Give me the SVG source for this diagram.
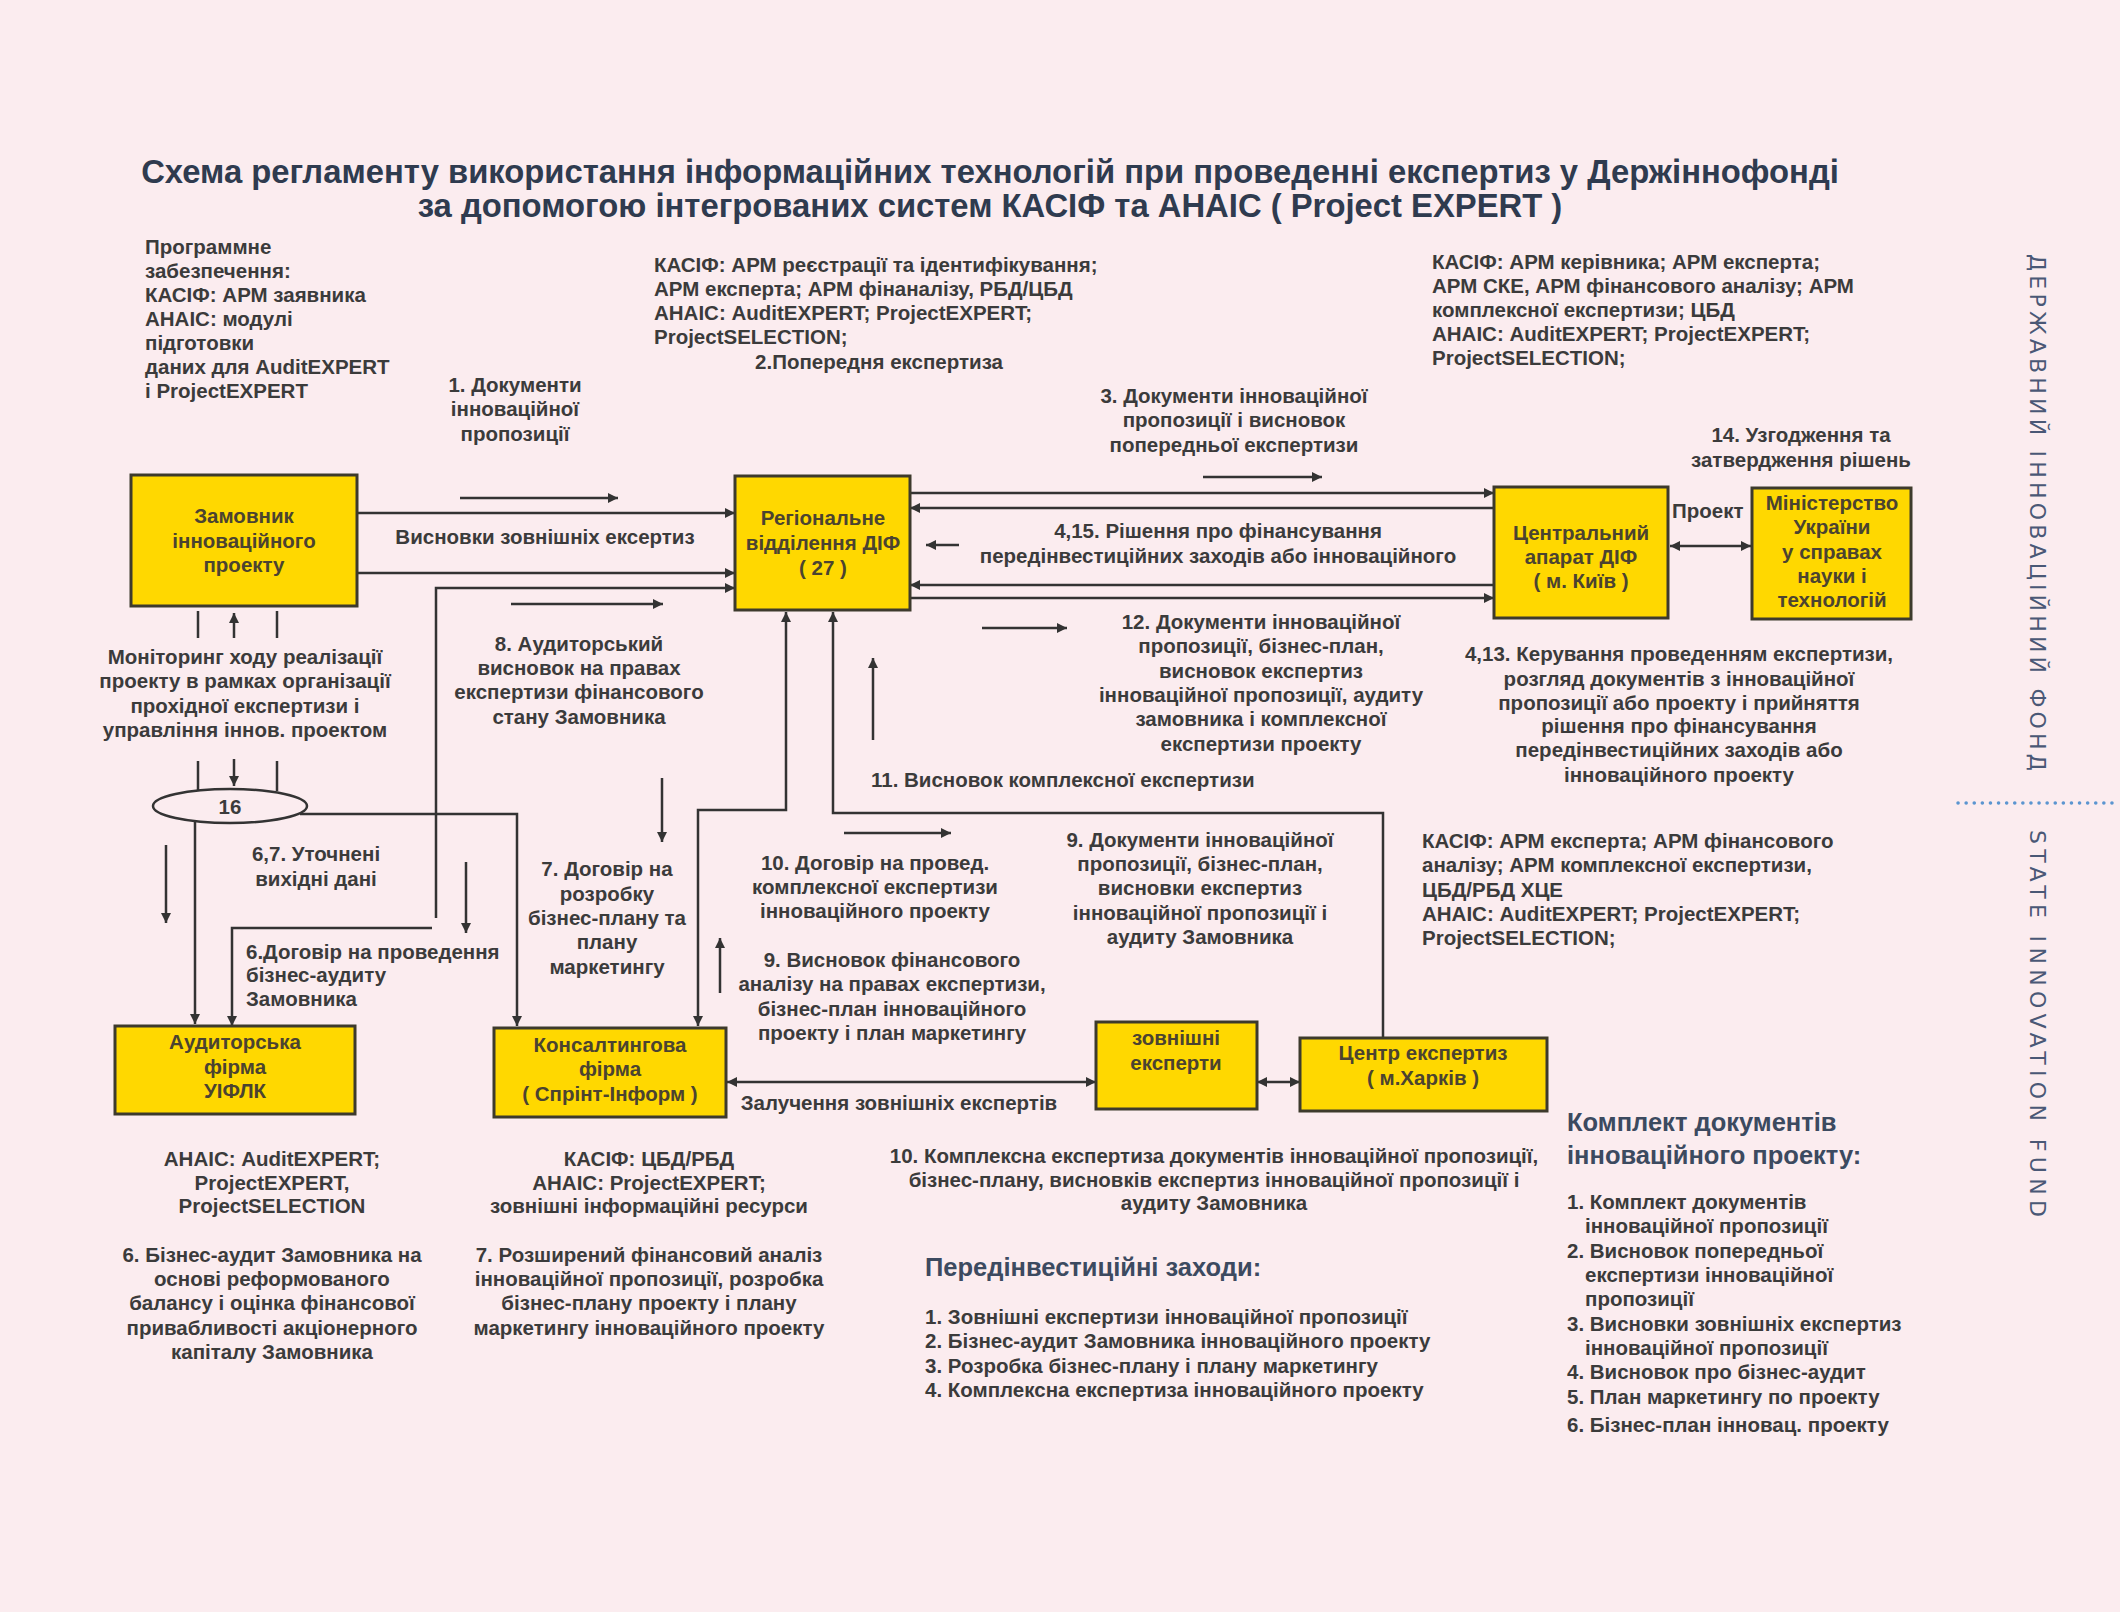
<svg xmlns="http://www.w3.org/2000/svg" width="2120" height="1612" viewBox="0 0 2120 1612">
<style>
.t{font-family:"Liberation Sans",Arial,sans-serif;font-weight:bold;font-size:20.5px;fill:#3b3b3b}
.c{text-anchor:middle}
.ttl{font-family:"Liberation Sans",Arial,sans-serif;font-weight:bold;font-size:32.8px;fill:#2f3b4f;text-anchor:middle}
.h{font-family:"Liberation Sans",Arial,sans-serif;font-weight:bold;font-size:25.5px;fill:#3c4a60}
.n{fill:#ffd800;stroke:#3d3a2c;stroke-width:3}
.nt{font-family:"Liberation Sans",Arial,sans-serif;font-weight:bold;font-size:20.5px;fill:#4b4330;text-anchor:middle}
.ln{stroke:#333;stroke-width:2.5;fill:none}
.a{marker-end:url(#ah)}
.s{marker-start:url(#ah)}
.side{font-family:"DejaVu Sans","Liberation Sans",sans-serif;font-size:22px;fill:#4a5876}
</style>
<defs>
<marker id="ah" viewBox="0 0 10 10" refX="10" refY="5" markerWidth="13" markerHeight="10" markerUnits="userSpaceOnUse" orient="auto-start-reverse"><path d="M0,0 L10,5 L0,10 z" fill="#333"/></marker>
</defs>
<rect width="2120" height="1612" fill="#fbecef"/>

<g id="title">
<text class="ttl" x="990" y="183">Схема регламенту використання інформаційних технологій при проведенні експертиз у Держіннофонді</text>
<text class="ttl" x="990" y="217">за допомогою інтегрованих систем КАСІФ та АНАІС ( Project EXPERT )</text>
</g>

<g id="connectors">
<line class="ln a" x1="460" y1="498" x2="618" y2="498"/>
<line class="ln a" x1="357" y1="513" x2="735" y2="513"/>
<line class="ln a" x1="357" y1="573" x2="735" y2="573"/>
<polyline class="ln a" points="436,918 436,588 735,588"/>
<polyline class="ln a" points="432,928 232,928 232,1026"/>
<line class="ln a" x1="511" y1="604" x2="663" y2="604"/>
<line class="ln a" x1="910" y1="493" x2="1494" y2="493"/>
<line class="ln a" x1="1494" y1="508" x2="910" y2="508"/>
<line class="ln a" x1="1494" y1="585" x2="910" y2="585"/>
<line class="ln a" x1="910" y1="598" x2="1494" y2="598"/>
<line class="ln a" x1="1203" y1="477" x2="1322" y2="477"/>
<line class="ln a" x1="959" y1="545" x2="926" y2="545"/>
<line class="ln a" x1="982" y1="628" x2="1067" y2="628"/>
<line class="ln a s" x1="1670" y1="546" x2="1751" y2="546"/>
<line class="ln a" x1="873" y1="740" x2="873" y2="658"/>
<polyline class="ln a" points="1383,1037 1383,813 833,813 833,612"/>
<polyline class="ln a s" points="786,612 786,810 698,810 698,1026"/>
<line class="ln a" x1="720" y1="993" x2="720" y2="938"/>
<line class="ln a" x1="662" y1="778" x2="662" y2="842"/>
<line class="ln a" x1="844" y1="833" x2="951" y2="833"/>
<polyline class="ln a" points="300,814 517,814 517,1026"/>
<line class="ln a" x1="195" y1="822" x2="195" y2="1024"/>
<line class="ln a" x1="166" y1="845" x2="166" y2="923"/>
<line class="ln a" x1="466" y1="862" x2="466" y2="933"/>
<line class="ln" x1="198" y1="611" x2="198" y2="638"/>
<line class="ln a" x1="234" y1="638" x2="234" y2="613"/>
<line class="ln" x1="277" y1="611" x2="277" y2="638"/>
<line class="ln" x1="198" y1="761" x2="198" y2="791"/>
<line class="ln a" x1="234" y1="759" x2="234" y2="786"/>
<line class="ln" x1="277" y1="761" x2="277" y2="791"/>
<line class="ln a s" x1="727" y1="1082" x2="1096" y2="1082"/>
<line class="ln a s" x1="1257" y1="1082" x2="1300" y2="1082"/>
</g>

<g id="n-zamovnyk">
<rect class="n" x="131" y="475" width="226" height="131"/>
<text class="nt"><tspan x="244" y="523">Замовник</tspan><tspan x="244" y="548">інноваційного</tspan><tspan x="244" y="572">проекту</tspan></text>
</g>
<g id="n-regional">
<rect class="n" x="735" y="476" width="175" height="134"/>
<text class="nt"><tspan x="823" y="525">Регіональне</tspan><tspan x="823" y="550">відділення ДІФ</tspan><tspan x="823" y="575">( 27 )</tspan></text>
</g>
<g id="n-central">
<rect class="n" x="1494" y="487" width="174" height="131"/>
<text class="nt"><tspan x="1581" y="540">Центральний</tspan><tspan x="1581" y="564">апарат ДІФ</tspan><tspan x="1581" y="588">( м. Київ )</tspan></text>
</g>
<g id="n-ministry">
<rect class="n" x="1752" y="488" width="159" height="131"/>
<text class="nt"><tspan x="1832" y="510">Міністерство</tspan><tspan x="1832" y="534">України</tspan><tspan x="1832" y="559">у справах</tspan><tspan x="1832" y="583">науки і</tspan><tspan x="1832" y="607">технологій</tspan></text>
</g>
<g id="n-audit">
<rect class="n" x="115" y="1026" width="240" height="88"/>
<text class="nt"><tspan x="235" y="1049">Аудиторська</tspan><tspan x="235" y="1074">фірма</tspan><tspan x="235" y="1098">УІФЛК</tspan></text>
</g>
<g id="n-consult">
<rect class="n" x="494" y="1028" width="232" height="89"/>
<text class="nt"><tspan x="610" y="1052">Консалтингова</tspan><tspan x="610" y="1076">фірма</tspan><tspan x="610" y="1101">( Спрінт-Інформ )</tspan></text>
</g>
<g id="n-experts">
<rect class="n" x="1096" y="1022" width="161" height="87"/>
<text class="nt"><tspan x="1176" y="1045">зовнішні</tspan><tspan x="1176" y="1070">експерти</tspan></text>
</g>
<g id="n-center">
<rect class="n" x="1300" y="1038" width="247" height="73"/>
<text class="nt"><tspan x="1423" y="1060">Центр експертиз</tspan><tspan x="1423" y="1085">( м.Харків )</tspan></text>
</g>
<g id="n-16">
<ellipse cx="230" cy="806" rx="77" ry="17" fill="none" stroke="#333" stroke-width="2.5"/>
<text class="t c" x="230" y="814">16</text>
</g>

<g id="labels">
<text class="t"><tspan x="145" y="254">Программне</tspan><tspan x="145" y="278">забезпечення:</tspan><tspan x="145" y="302">КАСІФ: АРМ заявника</tspan><tspan x="145" y="326">АНАІС: модулі</tspan><tspan x="145" y="350">підготовки</tspan><tspan x="145" y="374">даних для AuditEXPERT</tspan><tspan x="145" y="398">і ProjectEXPERT</tspan></text>
<text class="t"><tspan x="654" y="272">КАСІФ: АРМ реєстрації та ідентифікування;</tspan><tspan x="654" y="296">АРМ експерта; АРМ фінаналізу, РБД/ЦБД</tspan><tspan x="654" y="320">АНАІС: AuditEXPERT; ProjectEXPERT;</tspan><tspan x="654" y="344">ProjectSELECTION;</tspan></text>
<text class="t c" x="879" y="369">2.Попередня експертиза</text>
<text class="t"><tspan x="1432" y="269">КАСІФ: АРМ керівника; АРМ експерта;</tspan><tspan x="1432" y="293">АРМ СКЕ, АРМ фінансового аналізу; АРМ</tspan><tspan x="1432" y="317">комплексної експертизи; ЦБД</tspan><tspan x="1432" y="341">АНАІС: AuditEXPERT; ProjectEXPERT;</tspan><tspan x="1432" y="365">ProjectSELECTION;</tspan></text>
<text class="t c"><tspan x="515" y="392">1. Документи</tspan><tspan x="515" y="416">інноваційної</tspan><tspan x="515" y="441">пропозиції</tspan></text>
<text class="t c"><tspan x="1234" y="403">3. Документи інноваційної</tspan><tspan x="1234" y="427">пропозиції і висновок</tspan><tspan x="1234" y="452">попередньої експертизи</tspan></text>
<text class="t c"><tspan x="1801" y="442">14. Узгодження та</tspan><tspan x="1801" y="467">затвердження рішень</tspan></text>
<text class="t" x="1672" y="518">Проект</text>
<text class="t c" x="545" y="544">Висновки зовнішніх ексертиз</text>
<text class="t c"><tspan x="1218" y="538">4,15. Рішення про фінансування</tspan><tspan x="1218" y="563">передінвестиційних заходів або інноваційного</tspan></text>
<text class="t c"><tspan x="1261" y="629">12. Документи інноваційної</tspan><tspan x="1261" y="653">пропозиції, бізнес-план,</tspan><tspan x="1261" y="678">висновок експертиз</tspan><tspan x="1261" y="702">інноваційної  пропозиції, аудиту</tspan><tspan x="1261" y="726">замовника і комплексної</tspan><tspan x="1261" y="751">експертизи проекту</tspan></text>
<text class="t c"><tspan x="1679" y="661">4,13. Керування проведенням експертизи,</tspan><tspan x="1679" y="686">розгляд документів з інноваційної</tspan><tspan x="1679" y="710">пропозиції або проекту і прийняття</tspan><tspan x="1679" y="733">рішення про фінансування</tspan><tspan x="1679" y="757">передінвестиційних заходів або</tspan><tspan x="1679" y="782">інноваційного проекту</tspan></text>
<text class="t c"><tspan x="245" y="664">Моніторинг ходу реалізації</tspan><tspan x="245" y="688">проекту в рамках організації</tspan><tspan x="245" y="713">прохідної експертизи і</tspan><tspan x="245" y="737">управління іннов. проектом</tspan></text>
<text class="t c"><tspan x="579" y="651">8. Аудиторський</tspan><tspan x="579" y="675">висновок на правах</tspan><tspan x="579" y="699">експертизи фінансового</tspan><tspan x="579" y="724">стану Замовника</tspan></text>
<text class="t" x="871" y="787">11. Висновок комплексної експертизи</text>
<text class="t c"><tspan x="316" y="861">6,7. Уточнені</tspan><tspan x="316" y="886">вихідні дані</tspan></text>
<text class="t c"><tspan x="607" y="876">7. Договір  на</tspan><tspan x="607" y="901">розробку</tspan><tspan x="607" y="925">бізнес-плану та</tspan><tspan x="607" y="949">плану</tspan><tspan x="607" y="974">маркетингу</tspan></text>
<text class="t c"><tspan x="875" y="870">10. Договір на провед.</tspan><tspan x="875" y="894">комплексної експертизи</tspan><tspan x="875" y="918">інноваційного проекту</tspan></text>
<text class="t c"><tspan x="1200" y="847">9. Документи інноваційної</tspan><tspan x="1200" y="871">пропозиції, бізнес-план,</tspan><tspan x="1200" y="895">висновки експертиз</tspan><tspan x="1200" y="920">інноваційної пропозиції і</tspan><tspan x="1200" y="944">аудиту Замовника</tspan></text>
<text class="t"><tspan x="1422" y="848">КАСІФ: АРМ експерта; АРМ фінансового</tspan><tspan x="1422" y="872">аналізу; АРМ комплексної експертизи,</tspan><tspan x="1422" y="897">ЦБД/РБД ХЦЕ</tspan><tspan x="1422" y="921">АНАІС: AuditEXPERT; ProjectEXPERT;</tspan><tspan x="1422" y="945">ProjectSELECTION;</tspan></text>
<text class="t"><tspan x="246" y="959">6.Договір на проведення</tspan><tspan x="246" y="982">бізнес-аудиту</tspan><tspan x="246" y="1006">Замовника</tspan></text>
<text class="t c"><tspan x="892" y="967">9. Висновок фінансового</tspan><tspan x="892" y="991">аналізу на правах експертизи,</tspan><tspan x="892" y="1016">бізнес-план інноваційного</tspan><tspan x="892" y="1040">проекту і план маркетингу</tspan></text>
<text class="t c" x="899" y="1110">Залучення зовнішніх експертів</text>
<text class="t c"><tspan x="272" y="1166">АНАІС: AuditEXPERT;</tspan><tspan x="272" y="1190">ProjectEXPERT,</tspan><tspan x="272" y="1213">ProjectSELECTION</tspan></text>
<text class="t c"><tspan x="649" y="1166">КАСІФ: ЦБД/РБД</tspan><tspan x="649" y="1190">АНАІС: ProjectEXPERT;</tspan><tspan x="649" y="1213">зовнішні інформаційні ресурси</tspan></text>
<text class="t c"><tspan x="1214" y="1163">10. Комплексна експертиза документів інноваційної пропозиції,</tspan><tspan x="1214" y="1187">бізнес-плану, висновків експертиз інноваційної пропозиції і</tspan><tspan x="1214" y="1210">аудиту Замовника</tspan></text>
<text class="t c"><tspan x="272" y="1262">6. Бізнес-аудит Замовника на</tspan><tspan x="272" y="1286">основі реформованого</tspan><tspan x="272" y="1310">балансу і оцінка фінансової</tspan><tspan x="272" y="1335">привабливості акціонерного</tspan><tspan x="272" y="1359">капіталу Замовника</tspan></text>
<text class="t c"><tspan x="649" y="1262">7. Розширений фінансовий аналіз</tspan><tspan x="649" y="1286">інноваційної пропозиції, розробка</tspan><tspan x="649" y="1310">бізнес-плану проекту і плану</tspan><tspan x="649" y="1335">маркетингу інноваційного проекту</tspan></text>
<text class="h" x="925" y="1276">Передінвестиційні заходи:</text>
<text class="t"><tspan x="925" y="1324">1. Зовнішні експертизи інноваційної пропозиції</tspan><tspan x="925" y="1348">2. Бізнес-аудит Замовника інноваційного проекту</tspan><tspan x="925" y="1373">3. Розробка бізнес-плану і плану маркетингу</tspan><tspan x="925" y="1397">4. Комплексна експертиза інноваційного проекту</tspan></text>
<text class="h"><tspan x="1567" y="1131">Комплект документів</tspan><tspan x="1567" y="1164">інноваційного проекту:</tspan></text>
<text class="t"><tspan x="1567" y="1209">1. Комплект документів</tspan><tspan x="1585" y="1233">інноваційної пропозиції</tspan><tspan x="1567" y="1258">2. Висновок попередньої</tspan><tspan x="1585" y="1282">експертизи інноваційної</tspan><tspan x="1585" y="1306">пропозиції</tspan><tspan x="1567" y="1331">3. Висновки зовнішніх експертиз</tspan><tspan x="1585" y="1355">інноваційної пропозиції</tspan><tspan x="1567" y="1379">4. Висновок про бізнес-аудит</tspan><tspan x="1567" y="1404">5. План маркетингу по проекту</tspan><tspan x="1567" y="1432">6. Бізнес-план інновац. проекту</tspan></text>
</g>

<g id="side">
<text class="side" transform="translate(2030,254) rotate(90)" textLength="517" lengthAdjust="spacing">ДЕРЖАВНИЙ ІННОВАЦІЙНИЙ ФОНД</text>
<line x1="1958" y1="803" x2="2120" y2="803" stroke="#5b95d0" stroke-width="3.5" stroke-linecap="round" stroke-dasharray="0.1 8"/>
<text class="side" transform="translate(2030,830) rotate(90)" textLength="387" lengthAdjust="spacing">STATE INNOVATION FUND</text>
</g>
</svg>
